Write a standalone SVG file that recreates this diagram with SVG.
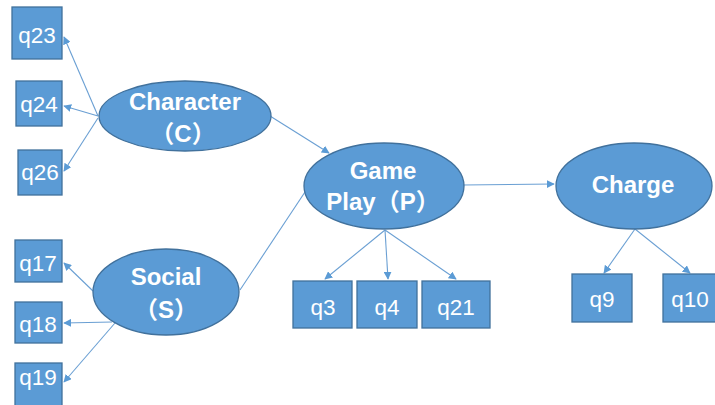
<svg xmlns="http://www.w3.org/2000/svg" width="715" height="405" viewBox="0 0 715 405">
<style>
.box{fill:#5B9BD5;stroke:#41719C;stroke-width:1.3}
.ell{fill:#5B9BD5;stroke:#41719C;stroke-width:1.3}
.bt{font-family:"Liberation Sans",Arial,sans-serif;font-size:22.5px;fill:#fff;text-anchor:middle}
.et{font-family:"Liberation Sans","Noto Sans CJK SC",Arial,sans-serif;font-size:24px;font-weight:bold;fill:#fff;text-anchor:middle}
.ln{stroke:#6A9FD3;stroke-width:1.1;fill:none}
</style>
<defs>
<marker id="ah" viewBox="0 0 10 10" refX="9" refY="5" markerWidth="8" markerHeight="8" markerUnits="userSpaceOnUse" orient="auto">
<path d="M0,0 L10,5 L0,10 z" fill="#5B9BD5"/>
</marker>
</defs>
<rect width="715" height="405" fill="#fff"/>
<g id="connectors">
<line class="ln" x1="98" y1="116" x2="64" y2="37" marker-end="url(#ah)"/>
<line class="ln" x1="98" y1="116" x2="64" y2="106" marker-end="url(#ah)"/>
<line class="ln" x1="98" y1="118" x2="64" y2="171" marker-end="url(#ah)"/>
<line class="ln" x1="270" y1="116" x2="329" y2="153" marker-end="url(#ah)"/>
<line class="ln" x1="93" y1="291" x2="64" y2="263" marker-end="url(#ah)"/>
<line class="ln" x1="112" y1="322" x2="64" y2="323" marker-end="url(#ah)"/>
<line class="ln" x1="115" y1="323" x2="64" y2="382" marker-end="url(#ah)"/>
<line class="ln" x1="240" y1="290" x2="305" y2="192"/>
<line class="ln" x1="463" y1="185" x2="554" y2="184" marker-end="url(#ah)"/>
<line class="ln" x1="385" y1="230" x2="325" y2="279" marker-end="url(#ah)"/>
<line class="ln" x1="385" y1="230" x2="388" y2="279" marker-end="url(#ah)"/>
<line class="ln" x1="385" y1="230" x2="456" y2="279" marker-end="url(#ah)"/>
<line class="ln" x1="635" y1="229" x2="604" y2="273" marker-end="url(#ah)"/>
<line class="ln" x1="635" y1="229" x2="690" y2="273" marker-end="url(#ah)"/>
</g>
<g id="q23"><rect class="box" x="12" y="7" width="50" height="52"/><text class="bt" x="37" y="43">q23</text></g>
<g id="q24"><rect class="box" x="16" y="81" width="46" height="45"/><text class="bt" x="39" y="112">q24</text></g>
<g id="q26"><rect class="box" x="18" y="150" width="44" height="45"/><text class="bt" x="40" y="180">q26</text></g>
<g id="q17"><rect class="box" x="15" y="240" width="47" height="42"/><text class="bt" x="38" y="271">q17</text></g>
<g id="q18"><rect class="box" x="15" y="302" width="47" height="41"/><text class="bt" x="38" y="332">q18</text></g>
<g id="q19"><rect class="box" x="15" y="363" width="47" height="45"/><text class="bt" x="38" y="385">q19</text></g>
<g id="character"><ellipse class="ell" cx="185" cy="116" rx="86" ry="35"/><text class="et" x="185" y="110">Character</text><text class="et" x="183" y="142">（C）</text></g>
<g id="social"><ellipse class="ell" cx="166" cy="292" rx="73" ry="43"/><text class="et" x="166" y="285">Social</text><text class="et" x="166" y="318">（S）</text></g>
<g id="gameplay"><ellipse class="ell" cx="384" cy="186" rx="80" ry="43"/><text class="et" x="383" y="179">Game</text><text class="et" x="383" y="210">Play（P）</text></g>
<g id="charge"><ellipse class="ell" cx="634" cy="186" rx="78" ry="43"/><text class="et" x="633" y="193">Charge</text></g>
<g id="q3"><rect class="box" x="293" y="281" width="59" height="47"/><text class="bt" x="323" y="315">q3</text></g>
<g id="q4"><rect class="box" x="357" y="281" width="60" height="47"/><text class="bt" x="387" y="315">q4</text></g>
<g id="q21"><rect class="box" x="422" y="281" width="68" height="47"/><text class="bt" x="456" y="315">q21</text></g>
<g id="q9"><rect class="box" x="572" y="274" width="60" height="48"/><text class="bt" x="602" y="307">q9</text></g>
<g id="q10"><rect class="box" x="663" y="274" width="56" height="48"/><text class="bt" x="690" y="307">q10</text></g>
</svg>
